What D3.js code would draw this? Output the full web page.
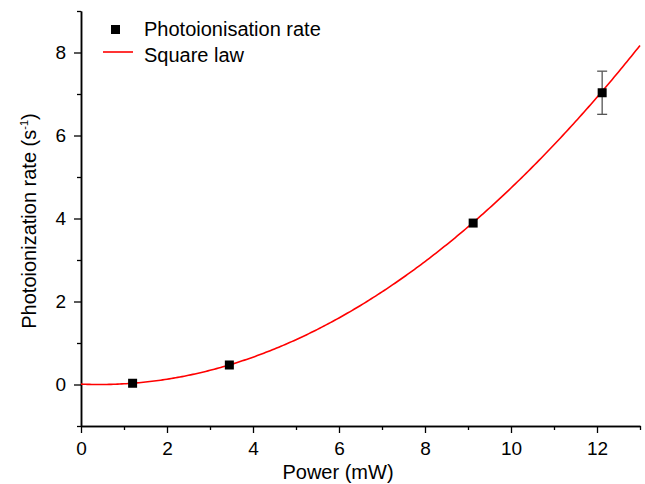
<!DOCTYPE html>
<html>
<head>
<meta charset="utf-8">
<script src="https://cdn.jsdelivr.net/npm/d3@7"></script>
<style>
  body { margin: 0; background: #fff; }
  text { font-family: "Liberation Sans", Arial, sans-serif; fill: #000; }
</style>
</head>
<body>
<svg id="chart" width="645" height="484"></svg>
<script>
// measured points
const power = [1.2, 3.45, 9.12, 12.12];
const rate = [0.03, 0.47, 3.89, 7.03];
const rateErr = [0, 0, 0, 0.52];

// square law fit: y = a (x - x0)^2
const fitA = 0.0517;
const fitX0 = 0.43;

const xMajor = [0, 2, 4, 6, 8, 10, 12];
const xMinor = [1, 3, 5, 7, 9, 11, 13];
const yMajor = [0, 2, 4, 6, 8];
const yMinor = [-1, 1, 3, 5, 7, 9];

const svg = d3.select("#chart");

const x = d3.scaleLinear().domain([0, 13]).range([81, 640]);
const y = d3.scaleLinear().domain([-1, 9]).range([426, 11]);

// axes
const xAxis = svg.append("g").attr("transform", `translate(0,${y(-1)})`);
xAxis.call(d3.axisBottom(x).tickValues(xMajor).tickSize(7).tickPadding(9).tickSizeOuter(0));
xAxis.append("g").call(d3.axisBottom(x).tickValues(xMinor).tickSize(4).tickFormat("").tickSizeOuter(0));

const yAxis = svg.append("g").attr("transform", `translate(${x(0)},0)`);
yAxis.call(d3.axisLeft(y).tickValues(yMajor).tickSize(7).tickPadding(8).tickSizeOuter(0));
yAxis.append("g").call(d3.axisLeft(y).tickValues(yMinor).tickSize(4).tickFormat("").tickSizeOuter(0));

svg.selectAll(".domain").attr("stroke", "#000").attr("stroke-width", 1.5);
svg.selectAll(".tick line").attr("stroke", "#000").attr("stroke-width", 1.3);
svg.selectAll(".tick text")
  .style("font-family", "'Liberation Sans', Arial, sans-serif")
  .style("font-size", "19px")
  .attr("fill", "#000");

// axis titles
svg.append("text")
  .attr("x", 338).attr("y", 479)
  .attr("text-anchor", "middle")
  .style("font-size", "20px")
  .text("Power (mW)");

const yTitle = svg.append("text")
  .attr("transform", "translate(36,221) rotate(-90)")
  .attr("text-anchor", "middle")
  .style("font-size", "20px");
yTitle.append("tspan").text("Photoionization rate (s");
yTitle.append("tspan").attr("dy", -8).style("font-size", "11px").text("-1");
yTitle.append("tspan").attr("dy", 8).text(")");

// fit curve
const curveX = d3.range(0, 13.001, 0.05);
const line = d3.line()
  .x(d => x(d))
  .y(d => y(fitA * (d - fitX0) * (d - fitX0)));

svg.append("path")
  .datum(curveX)
  .attr("d", line)
  .attr("fill", "none")
  .attr("stroke", "#ff0000")
  .attr("stroke-width", 1.6);

// error bars
const pts = power.map((p, i) => ({ p, r: rate[i], e: rateErr[i] }));
const errG = svg.append("g").selectAll("g")
  .data(pts.filter(d => d.e > 0))
  .join("g")
  .attr("stroke", "#555")
  .attr("stroke-width", 1.3);
errG.append("line")
  .attr("x1", d => x(d.p)).attr("x2", d => x(d.p))
  .attr("y1", d => y(d.r + d.e)).attr("y2", d => y(d.r - d.e));
errG.append("line")
  .attr("x1", d => x(d.p) - 5).attr("x2", d => x(d.p) + 5)
  .attr("y1", d => y(d.r + d.e)).attr("y2", d => y(d.r + d.e));
errG.append("line")
  .attr("x1", d => x(d.p) - 5).attr("x2", d => x(d.p) + 5)
  .attr("y1", d => y(d.r - d.e)).attr("y2", d => y(d.r - d.e));

// markers
svg.append("g").selectAll("rect")
  .data(pts)
  .join("rect")
  .attr("x", d => x(d.p) - 4.5)
  .attr("y", d => y(d.r) - 4.5)
  .attr("width", 9)
  .attr("height", 9)
  .attr("fill", "#000");

// legend
const legend = svg.append("g");
legend.append("rect")
  .attr("x", 111).attr("y", 25).attr("width", 9).attr("height", 9).attr("fill", "#000");
legend.append("text")
  .attr("x", 144).attr("y", 36).style("font-size", "20px")
  .text("Photoionisation rate");
legend.append("line")
  .attr("x1", 103).attr("x2", 133).attr("y1", 52).attr("y2", 52)
  .attr("stroke", "#ff0000").attr("stroke-width", 1.6);
legend.append("text")
  .attr("x", 144).attr("y", 62).style("font-size", "20px")
  .text("Square law");
</script>
</body>
</html>
